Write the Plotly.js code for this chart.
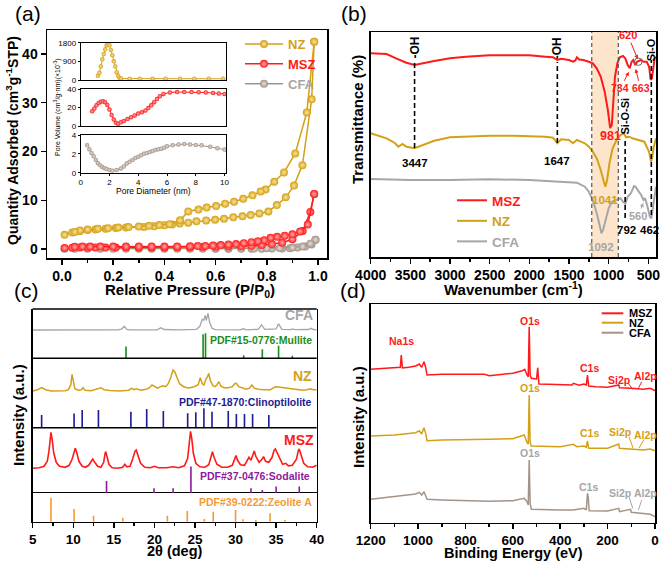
<!DOCTYPE html>
<html><head><meta charset="utf-8">
<script src="https://cdn.plot.ly/plotly-3.0.1.min.js"></script>
<style>html,body{margin:0;padding:0;background:#fff}#chart{width:661px;height:561px}</style>
</head><body><div id="chart"></div>
<script>
// ================= DATA =================
// (a) N2 isotherms: relative pressure / quantity adsorbed
const NZ_ads_P = [0.01,0.04,0.07,0.10,0.13,0.17,0.21,0.25,0.32,0.36,0.40,0.43,0.46,0.493,0.525,0.563,0.598,0.633,0.669,0.705,0.737,0.771,0.806,0.839,0.874,0.906,0.939,0.975,0.985];
const NZ_ads_Q = [2.9,3.4,3.7,3.9,4.0,4.15,4.3,4.4,4.5,4.65,4.85,5.0,5.25,5.4,5.7,5.85,6.0,6.2,6.5,6.7,6.95,7.3,7.7,9.0,10.6,13.0,17.2,30.7,42.5];
const NZ_des_P = [0.985,0.956,0.911,0.867,0.829,0.795,0.776,0.744,0.708,0.672,0.637,0.602,0.565,0.533,0.493,0.461,0.42,0.38,0.34,0.30,0.26,0.22,0.18,0.14,0.10,0.07,0.05];
const NZ_des_Q = [42.5,28.0,19.6,15.7,13.8,12.2,11.8,11.0,10.3,9.7,9.3,8.8,8.5,8.1,7.7,5.9,5.1,4.9,4.75,4.6,4.5,4.4,4.25,4.15,4.0,3.8,3.5];
const MSZ_ads_P = [0.01,0.04,0.07,0.10,0.13,0.17,0.21,0.25,0.30,0.35,0.40,0.45,0.50,0.55,0.60,0.65,0.70,0.74,0.78,0.82,0.86,0.90,0.94,0.97,0.985];
const MSZ_ads_Q = [0.2,0.25,0.3,0.3,0.3,0.3,0.3,0.35,0.3,0.3,0.3,0.35,0.35,0.4,0.45,0.5,0.55,0.65,0.8,1.0,1.3,2.0,3.7,7.6,11.3];
const MSZ_des_P = [0.985,0.96,0.93,0.90,0.87,0.84,0.815,0.79,0.765,0.74,0.71,0.68,0.65,0.62,0.59,0.56,0.53,0.50,0.45,0.40,0.35,0.30,0.25,0.20,0.15,0.11,0.08,0.05];
const MSZ_des_Q = [11.3,5.0,3.6,3.0,2.7,2.5,2.3,1.8,1.6,1.4,1.2,1.0,0.9,0.8,0.7,0.6,0.6,0.55,0.5,0.5,0.5,0.5,0.5,0.5,0.5,0.5,0.5,0.45];
const CFA_ads_P = [0.01,0.05,0.1,0.15,0.2,0.25,0.3,0.35,0.4,0.45,0.5,0.55,0.6,0.65,0.7,0.74,0.78,0.82,0.86,0.89,0.92,0.95,0.975,0.99];
const CFA_ads_Q = [0.05,0.05,0.05,0.05,0.05,0.05,0.05,0.05,0.05,0.05,0.05,0.05,0.05,0.05,0.1,0.05,0.05,0.1,0.1,0.15,0.3,0.5,0.9,1.9];
const CFA_des_P = [0.99,0.97,0.94,0.9,0.85,0.8,0.75,0.7,0.65,0.6];
const CFA_des_Q = [1.9,1.1,0.5,0.3,0.2,0.15,0.1,0.1,0.1,0.1];

// (a) inset: pore size distribution
const NZ_pd = [1.2,1.3,1.4,1.5,1.6,1.7,1.8,1.9,2.0,2.1,2.2,2.3,2.4,2.5,2.6,2.7,2.8,3.4,4.1,5.0,5.9,6.9,7.9,8.9,9.9];
const NZ_pv = [200,350,650,1000,1250,1480,1680,1760,1680,1450,1200,900,650,380,200,100,70,65,60,60,60,60,60,60,60];
const MSZ_pd = [0.8,0.95,1.1,1.25,1.4,1.55,1.7,1.85,2.0,2.15,2.3,2.45,2.6,2.8,3.0,3.25,3.5,3.75,4.0,4.25,4.5,4.7,4.9,5.1,5.3,5.5,5.75,6.2,6.7,7.2,7.7,8.2,8.7,9.2,9.6,10.0];
const MSZ_pv = [16,19,22.5,25,26.5,27,26,23,18,12,7,3.5,2.5,4,5.5,7.5,9.5,11.5,13.5,15,17,19.5,22.5,26,29.5,32.5,35,36.5,37,37,37,36.8,36.5,36,35.5,35];
const CFA_pd = [0.45,0.6,0.75,0.9,1.05,1.2,1.35,1.5,1.65,1.8,2.0,2.2,2.5,2.8,3.0,3.2,3.4,3.6,3.8,4.0,4.2,4.4,4.6,4.8,5.0,5.2,5.4,5.6,5.8,6.0,6.4,6.8,7.2,7.6,8.0,8.4,9.0,9.5,10.0];
const CFA_pv = [2.9,2.5,2.1,1.75,1.35,1.0,0.8,0.6,0.48,0.38,0.28,0.22,0.28,0.45,0.65,0.98,1.15,1.35,1.55,1.7,1.85,2.0,2.1,2.2,2.3,2.4,2.5,2.55,2.65,2.8,2.9,3.0,3.05,3.0,2.95,2.9,2.75,2.6,2.45];

// (b) FTIR: wavenumber / transmittance (a.u.)
const MSZ_b_wn = [4000,3800,3680,3550,3447,3350,3200,3000,2800,2500,2200,2000,1800,1700,1647,1600,1500,1450,1420,1400,1370,1320,1250,1200,1150,1100,1050,1010,981,960,940,920,890,860,820,790,760,734,710,690,663,640,620,590,560,520,490,470,455,440,420,403];
const MSZ_b_T = [203.7,203,198.7,194.3,192,193.7,196,198.7,200.3,201.7,202,201.7,200.3,199.7,197,198.3,197,195.3,196.5,199.7,197.5,197,195.3,193.7,188.7,180.3,165.3,147,129,132,157,180.3,193.7,199.7,201,198.7,192,188.7,195.3,197,192,195.3,196,197,195.3,195.3,190.3,177,178.7,190.3,198.7,200];
const NZ_b_wn = [4000,3900,3800,3700,3650,3600,3550,3447,3350,3200,3000,2800,2500,2200,2000,1800,1700,1647,1600,1500,1450,1400,1350,1300,1250,1200,1150,1100,1060,1041,1020,990,950,900,850,810,780,740,700,650,600,550,520,490,465,450,430,410,403];
const NZ_b_T = [123.7,121,118.7,114.3,110.3,113,110.3,108.7,112,116.3,119.7,120.3,121.3,121.3,121,120.3,119.3,113.7,117.7,117,113.7,117,115.3,113.7,110.3,105.3,98.7,87,75.3,70.3,77,93.7,108.7,117,122,123.7,119.7,120.3,118.7,117.7,117,115.3,110.3,105.3,95.3,100.3,110.3,117,118.7];
const CFA_b_wn = [4000,3500,3000,2500,2000,1700,1500,1400,1300,1250,1200,1150,1100,1092,1070,1040,1000,960,900,850,820,790,760,720,680,660,620,590,560,540,510,480,462,445,420,403];
const CFA_b_T = [78,77,77,77.7,77,76,75.3,74.3,70.3,65.3,57,43.7,27,23.7,27,37,48.7,55.3,57,58.7,55.3,53,60.3,63.7,71,70.3,65.3,62,57,58.7,50.3,40.3,38.7,47,63.7,70.3];

// (c) XRD: 2theta / intensity (a.u.) and reference card sticks
const CFA_c_x = [5,10,15.5,16.0,16.3,16.6,17.0,20.3,20.8,21.2,23.0,25.2,25.6,25.9,26.1,26.25,26.4,26.6,26.8,27.1,27.5,30.5,31.0,31.3,32.8,33.2,33.6,35.0,35.3,35.7,36.8,37.0,37.3,39.0,39.3,39.6,40];
const CFA_c_y = [28.3,28.4,28.5,29.5,32,29,28.4,28.5,30.5,28.8,28.5,29,32,39,38,43,38,45,36,30,28.6,28.5,29.5,28.5,29,33.5,29,29.5,34.5,29,28.6,29.3,28.6,28.8,30,28.8,28.5];
const Mullite_x = [16.5,26.0,26.3,31.0,33.3,35.3,37.0];
const Mullite_h = [11.7,24,25,3,9,12.5,2.5];
const NZ_c_x = [5,5.6,6.1,6.6,7.3,8.3,9.0,9.4,9.7,9.85,10.0,10.2,10.6,11.0,11.2,11.45,12.2,13.0,13.4,13.8,14.5,15.7,16.8,17.2,17.5,17.8,18.3,19.0,19.4,19.7,20.0,20.4,20.9,21.1,21.4,21.7,22.0,22.3,22.5,22.8,23.1,23.6,24.0,24.4,24.9,25.4,25.65,25.9,26.1,26.35,26.55,26.7,26.9,27.2,27.5,27.7,27.95,28.2,28.6,29.1,29.6,29.9,30.1,30.4,30.8,31.3,31.7,32.0,32.3,32.8,33.5,34.3,34.8,35.1,35.5,35.9,36.5,37.1,37.7,38.3,38.8,39.2,39.6,40];
const NZ_c_y = [36.7,38,40,38,36.7,36.7,37,38,43,53.4,46,39,37.5,38,40,37.5,37,38.5,40,38,37.2,36.7,37.5,39.4,38,39,37.5,38.5,40,42.7,41,39.5,41.5,42,41,44,50,57.7,56,50,44,41,40,40,41,43,50,44,42.7,48.7,51,54.4,47,42,41,43,46,41.5,40,40,41,44,44.4,41,40,38.5,39.5,42.7,39.5,38.5,38,38,40.5,41,40.5,40,39,38.5,38,37.5,38,39,38,38];
const Clino_x = [6.1,10.1,11.1,13.1,17.1,19.05,21.1,24.1,25.1,26.1,27.1,29.1,30.1,31.1,32.1,34.1];
const Clino_h = [12.7,14.3,17.7,17.7,16,18.7,16.7,14.4,15.4,19.4,16,16.7,13.7,13.7,13.7,12.7];
const MSZ_c_x = [5,5.8,6.4,6.8,7.0,7.15,7.25,7.4,7.6,7.9,8.3,9.0,9.5,9.85,10.1,10.25,10.45,10.7,11.1,11.5,11.9,12.2,12.4,12.65,13.0,13.4,13.75,13.9,14.0,14.15,14.4,14.8,15.5,16.1,16.35,16.6,17.0,17.35,17.6,17.75,17.95,18.3,18.8,19.5,20.0,20.5,21.5,22.3,23.0,23.7,24.1,24.3,24.45,24.6,24.8,25.1,25.6,26.2,26.7,27.0,27.15,27.35,27.7,28.3,29.0,29.6,29.9,30.05,30.25,30.6,31.1,31.45,31.65,31.9,32.15,32.3,32.5,32.9,33.25,33.45,33.7,34.1,34.5,34.75,34.9,35.1,35.4,35.8,36.2,36.5,37.0,37.5,37.75,37.85,38.05,38.4,38.9,39.5,40];
const MSZ_c_y = [25,25.5,27,32,42,55,61,54,40,31,27,26,28,34,42,45,40,32,27,26,28,32,34.3,31,27,26,31,39,41.7,37,29,25.5,25,26,29,26.5,27,35,42,43.3,38,30,26,25.5,27,25.5,25.5,26.5,25.5,27.5,35,52,62,55,40,30,26.5,26,28.5,37,41.7,36,29,26,26,28,34,37.7,33,28.5,28,33,36,33,39,42.3,37,31,34,36.7,32,31,36,43,44.3,41,35,29,30,27.5,28,34,43,44.3,39,30,26.5,26,28];
const Sodalite_x = [14.1,19.95,22.3,24.5,31.9,33.3,35.0,37.85];
const Sodalite_h = [12.3,5,5,26.7,5,3.3,6.7,6.7];
const ZeoA_x = [7.25,10.1,12.5,16.1,21.6,24.05,26.15,27.25,30.0,30.9,32.5,34.25,36.1];
const ZeoA_h = [24,12.7,6,4,6,10.7,2.7,10,11.7,2.4,1.7,8.4,1.7];

// (d) XPS survey: binding energy / intensity (a.u.)
const MSZ_d_E = [1200,1150,1100,1075,1071,1066,1040,1010,995,985,975,968,962,900,800,720,700,650,600,560,550,540,535,531,527,522,510,500,495,490,450,400,350,345,320,300,290,285,280,250,200,153,150,100,50,20,0];
const MSZ_d_I = [153.4,154,155,155.4,167.7,154.7,155.4,156.7,158.7,155.4,161,155.4,147.7,148.4,148.4,148.4,147,148,149.4,152,153.4,147.7,146,196,147.7,144.4,143.7,143.7,155,138.7,138.4,138.4,137.7,139.4,137.4,138.7,137.7,147.7,136.7,136,135.4,137.7,135,134.4,133.4,134.4,132];
const NZ_d_E = [1200,1100,1010,995,985,975,968,962,900,800,700,600,560,552,540,535,531,527,522,450,400,345,330,300,290,285,280,200,153,150,100,50,20,0];
const NZ_d_I = [86.7,87.7,90,92,88.7,95,89.3,82,82.7,83.4,83.4,84,86.7,87.7,80,78.7,127.7,80,76.7,76,76,78.4,76,76.7,75.4,81.7,74.4,74.4,78.7,74.4,73.4,72.7,73.7,72];
const CFA_d_E = [1200,1100,1010,995,985,975,968,962,900,800,700,600,560,552,540,535,531,527,522,450,400,345,300,290,285,282,278,200,153,150,103,100,50,20,0];
const CFA_d_I = [23.4,26,28.7,30.4,27.7,31,26.7,23.4,22.7,22,21.4,22,24,24.4,21,17.7,62.7,19.4,13.4,12.7,12.7,12.7,14.4,12.7,29.4,26,12,11.7,14.4,11,13.4,10.4,9.4,8.4,6];

// tick labels
const A_xticks = [0,0.2,0.4,0.6,0.8,1.0];
const B_xticks = [4000,3500,3000,2500,2000,1500,1000,500];
const C_xticks = [5,10,15,20,25,30,35,40];
const D_xticks = [1200,1000,800,600,400,200,0];

// ================= STYLE / LAYOUT =================
const W = 661, H = 561;
const fx = p => p / W, fy = p => 1 - p / H;
const F = 'Liberation Sans, Arial, Helvetica, sans-serif';
const C_NZ = '#D4A017', C_MSZ = '#FF1A1A', C_CFA = '#A39489', C_GR = '#A6A6A6';
const C_MUL = '#1E8C1E', C_CLI = '#1C1C94', C_SOD = '#8E1A9E', C_ZEO = '#F59A32';

const bold = (s, c) => ({family: F, size: s, color: c || '#000', weight: 'bold'});
function ann(text, x, y, xref, yref, font, extra) {
  return Object.assign({text, x, y, xref, yref, showarrow: false, font, xanchor: 'center', yanchor: 'middle'}, extra || {});
}

const baseAx = {showline: true, linecolor: '#000', linewidth: 1.5, mirror: true, showgrid: false, zeroline: false,
  ticks: 'outside', ticklen: 5, tickwidth: 1.5, tickcolor: '#000', tickfont: bold(14)};
const noTickAx = Object.assign({}, baseAx, {ticks: '', showticklabels: false});
const insetX = Object.assign({}, baseAx, {linewidth: 1, ticklen: 2, tickwidth: 1, range: [0, 10.1],
  domain: [fx(80.7), fx(226)], tickvals: [0,2,4,6,8,10], tickfont: {family: F, size: 8, color: '#000'}});
const insetY = Object.assign({}, baseAx, {linewidth: 1, ticklen: 2, tickwidth: 1, tickfont: {family: F, size: 8, color: '#000'}});

const traces = [];
function iso(x, y, color, center, name, grp, show, rank) {
  traces.push({type: 'scatter', mode: 'lines+markers', x, y, xaxis: 'x', yaxis: 'y', name, legendgroup: grp,
    showlegend: show, legend: 'legend', legendrank: rank,
    line: {color, width: 1.5}, marker: {size: 8, color, gradient: {type: 'radial', color: center}, line: {width: 0}}});
}
iso(CFA_ads_P, CFA_ads_Q, C_CFA, '#E6DDD8', '<span style="color:' + C_GR + '">CFA</span>', 'cfa', true, 3);
iso(CFA_des_P, CFA_des_Q, C_CFA, '#E6DDD8', 'CFA', 'cfa', false, 3);
iso(MSZ_ads_P, MSZ_ads_Q, C_MSZ, '#FFB0B0', '<span style="color:' + C_MSZ + '">MSZ</span>', 'msz', true, 2);
iso(MSZ_des_P, MSZ_des_Q, C_MSZ, '#FFB0B0', 'MSZ', 'msz', false, 2);
iso(NZ_ads_P, NZ_ads_Q, C_NZ, '#F8E49A', '<span style="color:' + C_NZ + '">NZ</span>', 'nz', true, 1);
iso(NZ_des_P, NZ_des_Q, C_NZ, '#F8E49A', 'NZ', 'nz', false, 1);

function insetTr(x, y, color, center, xa, ya) {
  traces.push({type: 'scatter', mode: 'lines+markers', x, y, xaxis: xa, yaxis: ya, showlegend: false,
    line: {color, width: 1}, marker: {size: 4.5, color, gradient: {type: 'radial', color: center}, line: {width: 0}}});
}
insetTr(NZ_pd, NZ_pv, C_NZ, '#F8E49A', 'x4', 'y4');
insetTr(MSZ_pd, MSZ_pv, C_MSZ, '#FFB0B0', 'x3', 'y3');
insetTr(CFA_pd, CFA_pv, C_CFA, '#E6DDD8', 'x2', 'y2');

function ftir(x, y, color, name) {
  traces.push({type: 'scatter', mode: 'lines', x, y, xaxis: 'x5', yaxis: 'y5', name, legend: 'legend2',
    line: {color, width: 2}});
}
ftir(MSZ_b_wn, MSZ_b_T, C_MSZ, '<span style="color:' + C_MSZ + '">MSZ</span>');
ftir(NZ_b_wn, NZ_b_T, C_NZ, '<span style="color:' + C_NZ + '">NZ</span>');
ftir(CFA_b_wn, CFA_b_T, C_GR, '<span style="color:' + C_GR + '">CFA</span>');

function xrdLine(x, y, color, ya, w) {
  traces.push({type: 'scatter', mode: 'lines', x, y, xaxis: 'x6', yaxis: ya, showlegend: false, line: {color, width: w}});
}
function sticks(x, h, color, ya) {
  traces.push({type: 'bar', x, y: h, xaxis: 'x6', yaxis: ya, width: 0.2, showlegend: false,
    marker: {color, line: {width: 0}}});
}
xrdLine(CFA_c_x, CFA_c_y, C_GR, 'y9', 1.3);
sticks(Mullite_x, Mullite_h, C_MUL, 'y9');
xrdLine(NZ_c_x, NZ_c_y, C_NZ, 'y8', 1.5);
sticks(Clino_x, Clino_h, C_CLI, 'y8');
xrdLine(MSZ_c_x, MSZ_c_y, C_MSZ, 'y7', 1.6);
sticks(Sodalite_x, Sodalite_h, C_SOD, 'y7');
sticks(ZeoA_x, ZeoA_h, C_ZEO, 'y6');

function xps(x, y, color) {
  traces.push({type: 'scatter', mode: 'lines', x, y, xaxis: 'x7', yaxis: 'y10', showlegend: false, line: {color, width: 1.5}});
}
xps(MSZ_d_E, MSZ_d_I, C_MSZ);
xps(NZ_d_E, NZ_d_I, C_NZ);
xps(CFA_d_E, CFA_d_I, C_CFA);

// ---------- annotations ----------
const A = [];
A.push(ann('(a)', fx(28), fy(14), 'paper', 'paper', {family: F, size: 21, color: '#000'}));
A.push(ann('(b)', fx(354), fy(14), 'paper', 'paper', {family: F, size: 21, color: '#000'}));
A.push(ann('(c)', fx(27), fy(290), 'paper', 'paper', {family: F, size: 21, color: '#000'}));
A.push(ann('(d)', fx(353), fy(290), 'paper', 'paper', {family: F, size: 21, color: '#000'}));
A.push(ann('Quantity Adsorbed (cm<sup>3</sup>g<sup>-1</sup>STP)', fx(12), fy(141), 'paper', 'paper', bold(14), {textangle: -90}));
A.push(ann('Relative Pressure (P/P<sub>0</sub>)', fx(190), fy(290), 'paper', 'paper', bold(15)));
A.push(ann('Pore Diameter (nm)', fx(153), fy(191.5), 'paper', 'paper', {family: F, size: 8.5, color: '#000'}));
A.push(ann('Pore Volume (cm<sup>3</sup>/g·nm)(×10<sup>-3</sup>)', fx(58), fy(107), 'paper', 'paper', {family: F, size: 7, color: '#000'}, {textangle: -90}));
A.push(ann('Transmittance (%)', fx(358), fy(120), 'paper', 'paper', bold(15), {textangle: -90}));
A.push(ann('Wavenumber (cm<sup>-1</sup>)', fx(513), fy(288.5), 'paper', 'paper', bold(15)));
A.push(ann('Intensity (a.u.)', fx(18), fy(415), 'paper', 'paper', bold(15), {textangle: -90}));
A.push(ann('2θ (deg)', fx(175), fy(551), 'paper', 'paper', bold(14.5)));
A.push(ann('Intensity (a.u.)', fx(358), fy(417), 'paper', 'paper', bold(15), {textangle: -90}));
A.push(ann('Binding Energy (eV)', fx(513), fy(553), 'paper', 'paper', bold(14.5)));

// (b) band labels
A.push(ann('-OH', 3447, 209, 'x5', 'y5', bold(12), {textangle: -90}));
A.push(ann('-OH', 1647, 209, 'x5', 'y5', bold(12), {textangle: -90}));
A.push(ann('3447', 3447, 94, 'x5', 'y5', bold(11.5)));
A.push(ann('1647', 1647, 96, 'x5', 'y5', bold(11.5)));
A.push(ann('981', 975, 121, 'x5', 'y5', bold(12.5, C_MSZ)));
A.push(ann('1041', 1041, 57, 'x5', 'y5', bold(11.5, C_NZ)));
A.push(ann('1092', 1092, 10, 'x5', 'y5', bold(11.5, C_GR)));
A.push(ann('Si-O-Si', 800, 141, 'x5', 'y5', bold(11), {textangle: -90}));
A.push(ann('792', 770, 27, 'x5', 'y5', bold(11.5)));
A.push(ann('Si-O', 462, 207, 'x5', 'y5', bold(11), {textangle: -90}));
A.push(ann('462', 490, 27, 'x5', 'y5', bold(11.5)));
const arr = (txt, x, y, tx, ty, c, s) => Object.assign(ann(txt, x, y, 'x5', 'y5', bold(s, c)),
  {showarrow: true, ax: tx, ay: ty, axref: 'x5', ayref: 'y5', arrowhead: 2, arrowsize: 0.8, arrowwidth: 1, arrowcolor: c, standoff: 1});
A.push(arr('620', 628, 197, 760, 222, C_MSZ, 11));
A.push(arr('734', 740, 186, 852, 168.7, C_MSZ, 10.5));
A.push(arr('663', 663, 189, 598, 168.7, C_MSZ, 10.5));
A.push(arr('560', 560, 55, 625, 41, C_GR, 11));

// (c) labels
const rt = {xanchor: 'right'};
A.push(ann('CFA', 39.8, 43, 'x6', 'y9', bold(14, C_GR), rt));
A.push(ann('PDF#15-0776:Mullite', 39.7, 18.3, 'x6', 'y9', bold(10.5, C_MUL), rt));
A.push(ann('NZ', 39.7, 51.7, 'x6', 'y8', bold(14, C_NZ), rt));
A.push(ann('PDF#47-1870:Clinoptilolite', 39.7, 26, 'x6', 'y8', bold(10.5, C_CLI), rt));
A.push(ann('MSZ', 39.9, 53.3, 'x6', 'y7', bold(14, C_MSZ), rt));
A.push(ann('PDF#37-0476:Sodalite', 39.4, 17.6, 'x6', 'y7', bold(10.5, C_SOD), rt));
A.push(ann('PDF#39-0222:Zeolite A', 39.7, 19.4, 'x6', 'y6', bold(10.5, C_ZEO), rt));

// (d) labels
const dl = (t, x, y, c) => A.push(ann(t, x, y, 'x7', 'y10', bold(10.5, c)));
dl('Na1s', 1069, 181.7, C_MSZ);
dl('O1s', 527, 202, C_MSZ); dl('O1s', 527, 134.4, C_NZ); dl('O1s', 527, 70, C_GR);
dl('C1s', 277, 154.4, C_MSZ); dl('C1s', 277, 89.4, C_NZ); dl('C1s', 280, 36, C_GR);
dl('Si2p', 150, 142.7, C_MSZ); dl('Si2p', 148, 91, C_NZ); dl('Si2p', 148, 29.4, C_GR);
dl('Al2p', 42, 146.7, C_MSZ); dl('Al2p', 42, 87.7, C_NZ); dl('Al2p', 42, 29.4, C_GR);
// (d) legend (drawn by hand: entries are closer than Plotly's minimum legend row height)
const legD = [['MSZ', C_MSZ, 313.3], ['NZ', C_NZ, 322.7], ['CFA', C_CFA, 332.7]];
legD.forEach(l => A.push(ann(l[0], fx(627), fy(l[2]), 'paper', 'paper', bold(11), {xanchor: 'left'})));

// ---------- shapes ----------
const S = [];
S.push({type: 'rect', xref: 'x5', yref: 'y5', x0: 1213, x1: 878, y0: 0, y1: 225, fillcolor: '#FDE5CC', line: {width: 0}, layer: 'below'});
[1213, 878].forEach(x => S.push({type: 'line', xref: 'x5', yref: 'y5', x0: x, x1: x, y0: 0, y1: 225, line: {color: '#555', width: 1.2, dash: '4px,3px'}}));
const dl5 = (x, y0, y1) => S.push({type: 'line', xref: 'x5', yref: 'y5', x0: x, x1: x, y0, y1, line: {color: '#000', width: 1.6, dash: '5px,3px'}});
dl5(3447, 109, 195); dl5(1647, 114, 195); dl5(792, 39, 117); dl5(462, 42, 197);
S.push({type: 'circle', xref: 'x5', yref: 'y5', x0: 578, x1: 672, y0: 191.6, y1: 199, line: {color: '#666', width: 1}});
[309, 358.3, 427.7].forEach(py => S.push({type: 'line', xref: 'paper', yref: 'paper', x0: fx(32.7), x1: fx(316.7), y0: fy(py), y1: fy(py), line: {color: '#000', width: 1.5}}));
const ld = (x0, y0, x1, y1, c) => S.push({type: 'line', xref: 'x7', yref: 'y10', x0, y0, x1, y1, line: {color: c, width: 1}});
ld(113, 139.4, 94, 133.4, C_MSZ); ld(56, 141, 70, 134.4, C_MSZ);
ld(110, 86, 92, 74.4, C_NZ); ld(46, 83.4, 68, 74.4, C_NZ);
ld(110, 26, 94, 14.4, C_GR); ld(56, 22.7, 70, 12.7, C_GR);
legD.forEach(l => S.push({type: 'line', xref: 'paper', yref: 'paper', x0: fx(601.7), x1: fx(623.3), y0: fy(l[2]), y1: fy(l[2]), line: {color: l[1], width: 2}}));

const layout = {
  width: W, height: H, margin: {l: 0, r: 0, t: 0, b: 0},
  paper_bgcolor: '#fff', plot_bgcolor: 'rgba(0,0,0,0)',
  font: {family: F, color: '#000'},
  showlegend: true,
  legend: {x: fx(240), y: fy(29), xanchor: 'left', yanchor: 'top', bgcolor: 'rgba(0,0,0,0)', borderwidth: 0,
    font: bold(13), itemwidth: 38, tracegroupgap: 0, traceorder: 'normal'},
  legend2: {x: fx(452), y: fy(185), xanchor: 'left', yanchor: 'top', bgcolor: 'rgba(0,0,0,0)', borderwidth: 0,
    font: bold(13.5), tracegroupgap: 0},
  xaxis: Object.assign({}, baseAx, {domain: [fx(47), fx(327)], range: [-0.0586, 1.035], anchor: 'y',
    tickvals: A_xticks, tickformat: '.1f', minor: {dtick: 0.1, ticklen: 3, tickwidth: 1.5, tickcolor: '#000'}}),
  yaxis: Object.assign({}, baseAx, {domain: [fy(258), fy(30)], range: [-1.846, 44.92], anchor: 'x', dtick: 10}),
  xaxis2: Object.assign({}, insetX, {anchor: 'y2'}),
  yaxis2: Object.assign({}, insetY, {domain: [fy(172.7), fy(135)], range: [0, 4], dtick: 2, anchor: 'x2'}),
  xaxis3: Object.assign({}, insetX, {anchor: 'y3', showticklabels: false, ticks: ''}),
  yaxis3: Object.assign({}, insetY, {domain: [fy(126), fy(89.3)], range: [0, 40], dtick: 20, anchor: 'x3'}),
  xaxis4: Object.assign({}, insetX, {anchor: 'y4', showticklabels: false, ticks: ''}),
  yaxis4: Object.assign({}, insetY, {domain: [fy(80), fy(42.7)], range: [0, 1800], dtick: 900, anchor: 'x4'}),
  xaxis5: Object.assign({}, baseAx, {domain: [fx(370.7), fx(656)], range: [4000, 403], anchor: 'y5',
    tickvals: B_xticks, minor: {dtick: 250, ticklen: 3, tickwidth: 1.5, tickcolor: '#000'}}),
  yaxis5: Object.assign({}, noTickAx, {domain: [fy(257), fy(32)], range: [0, 225], anchor: 'x5'}),
  xaxis6: Object.assign({}, baseAx, {domain: [fx(32.7), fx(316.7)], range: [5, 40], anchor: 'y6', tickfont: bold(13.5),
    tickvals: C_xticks, minor: {dtick: 2.5, ticklen: 3, tickwidth: 1.5, tickcolor: '#000'}}),
  yaxis6: Object.assign({}, noTickAx, {domain: [fy(521.7), fy(493.3)], range: [0, 28.4], anchor: 'x6'}),
  yaxis7: Object.assign({}, noTickAx, {domain: [fy(493.3), fy(427.7)], range: [0, 65.6], anchor: 'x6'}),
  yaxis8: Object.assign({}, noTickAx, {domain: [fy(427.7), fy(358.3)], range: [0, 69.4], anchor: 'x6'}),
  yaxis9: Object.assign({}, noTickAx, {domain: [fy(358.3), fy(309)], range: [0, 49.3], anchor: 'x6'}),
  xaxis7: Object.assign({}, baseAx, {domain: [fx(370.7), fx(655)], range: [1200, 0], anchor: 'y10', tickfont: bold(13.5),
    tickvals: D_xticks, minor: {dtick: 100, ticklen: 3, tickwidth: 1.5, tickcolor: '#000'}}),
  yaxis10: Object.assign({}, noTickAx, {domain: [fy(522.7), fy(304)], range: [0, 218.7], anchor: 'x7'}),
  annotations: A,
  shapes: S
};

Plotly.newPlot('chart', traces, layout, {displayModeBar: false, staticPlot: true});
</script></body></html>
